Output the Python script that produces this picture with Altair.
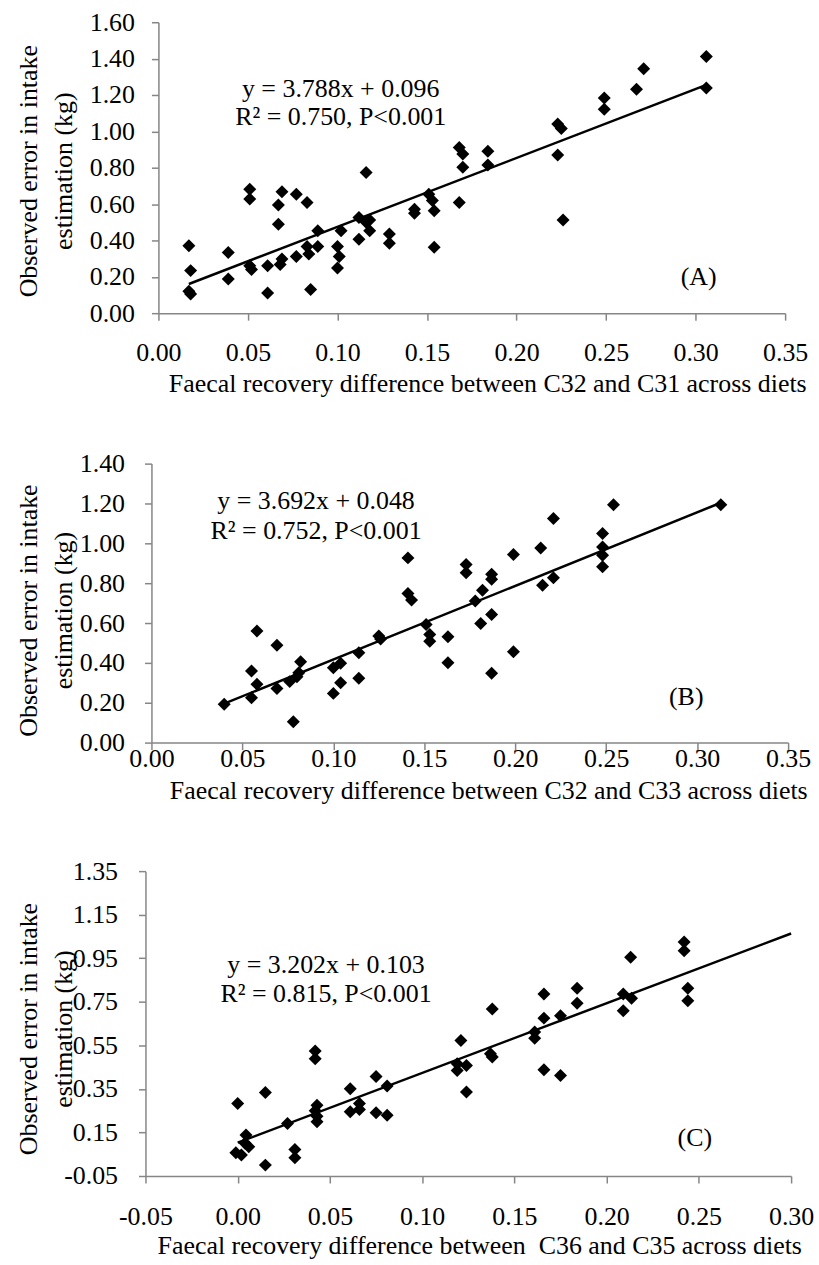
import altair as alt
import pandas as pd

FONT = "Liberation Serif"
AXIS_GREY = "#868686"

# ---- Panel A: C32 vs C31 ----
a_x = [0.017, 0.018, 0.017, 0.018, 0.039, 0.039, 0.051, 0.051, 0.051, 0.052,
       0.061, 0.061, 0.067, 0.067, 0.069, 0.068, 0.069, 0.077, 0.077, 0.083,
       0.083, 0.084, 0.085, 0.089, 0.089, 0.100, 0.101, 0.100, 0.102, 0.112,
       0.112, 0.116, 0.118, 0.118, 0.116, 0.129, 0.129, 0.143, 0.143, 0.151,
       0.153, 0.154, 0.154, 0.168, 0.170, 0.170, 0.168, 0.184, 0.184, 0.223,
       0.225, 0.223, 0.226, 0.249, 0.249, 0.267, 0.271, 0.306, 0.306]
a_y = [0.371, 0.234, 0.120, 0.105, 0.334, 0.188, 0.681, 0.628, 0.261, 0.240,
       0.261, 0.111, 0.595, 0.489, 0.668, 0.267, 0.298, 0.654, 0.312, 0.608,
       0.367, 0.325, 0.130, 0.453, 0.367, 0.367, 0.312, 0.248, 0.453, 0.526,
       0.407, 0.500, 0.513, 0.453, 0.773, 0.435, 0.385, 0.572, 0.550, 0.654,
       0.620, 0.563, 0.362, 0.911, 0.875, 0.802, 0.608, 0.891, 0.815, 1.040,
       1.015, 0.870, 0.513, 1.184, 1.122, 1.231, 1.344, 1.412, 1.238]
a_fit = (3.788, 0.096)
a_span = [0.017, 0.306]
a_eq = "y = 3.788x + 0.096\nR² = 0.750, P<0.001"

# ---- Panel B: C32 vs C33 ----
b_x = [0.040, 0.055, 0.055, 0.058, 0.058, 0.069, 0.069, 0.076, 0.078, 0.080,
       0.082, 0.081, 0.100, 0.104, 0.100, 0.104, 0.114, 0.114, 0.125, 0.126,
       0.141, 0.141, 0.143, 0.151, 0.153, 0.153, 0.163, 0.163, 0.173, 0.173,
       0.178, 0.181, 0.182, 0.187, 0.187, 0.187, 0.199, 0.199, 0.187, 0.214,
       0.215, 0.221, 0.221, 0.248, 0.248, 0.248, 0.248, 0.254, 0.313]
b_y = [0.192, 0.359, 0.225, 0.560, 0.293, 0.489, 0.272, 0.306, 0.105, 0.330,
       0.406, 0.350, 0.376, 0.398, 0.247, 0.300, 0.451, 0.323, 0.535, 0.520,
       0.927, 0.748, 0.715, 0.593, 0.543, 0.509, 0.531, 0.401, 0.894, 0.852,
       0.710, 0.598, 0.765, 0.845, 0.820, 0.643, 0.944, 0.456, 0.348, 0.977,
       0.790, 1.124, 0.827, 1.049, 0.982, 0.940, 0.882, 1.194, 1.194]
b_fit = (3.692, 0.048)
b_span = [0.040, 0.313]
b_eq = "y = 3.692x + 0.048\nR² = 0.752, P<0.001"

# ---- Panel C: C36 vs C35 ----
c_x = [0.000, 0.015, -0.001, 0.002, 0.0045, 0.006, 0.004, 0.015, 0.027, 0.031,
       0.031, 0.042, 0.042, 0.043, 0.042, 0.043, 0.043, 0.061, 0.061, 0.066,
       0.066, 0.075, 0.075, 0.081, 0.081, 0.121, 0.119, 0.119, 0.124, 0.124,
       0.138, 0.137, 0.138, 0.166, 0.166, 0.161, 0.161, 0.166, 0.175, 0.175,
       0.184, 0.184, 0.213, 0.209, 0.2135, 0.209, 0.242, 0.242, 0.244, 0.244]
c_y = [0.283, 0.333, 0.057, 0.046, 0.138, 0.084, 0.100, 0.000, 0.191, 0.072,
       0.034, 0.524, 0.488, 0.275, 0.250, 0.224, 0.199, 0.351, 0.245, 0.283,
       0.255, 0.407, 0.240, 0.363, 0.229, 0.572, 0.466, 0.435, 0.458, 0.336,
       0.717, 0.511, 0.496, 0.786, 0.675, 0.611, 0.583, 0.438, 0.686, 0.412,
       0.812, 0.743, 0.954, 0.786, 0.766, 0.709, 1.025, 0.984, 0.812, 0.755]
c_fit = (3.202, 0.103)
c_span = [0.0, 0.30]
c_eq = "y = 3.202x + 0.103\nR² = 0.815, P<0.001"

Y_TITLE = ["Observed error in intake", "estimation (kg)"]
LABEL_EXPR = ("datum.value < 0 ? '-' + format(-datum.value, '.2f') "
              ": format(datum.value, '.2f')")


def panel(xs, ys, fit, span, eq, eq_at, tag, tag_at, x_title, x_dom, x_ticks,
          y_dom, y_ticks, w, h, dx, x_lab_pad, y_lab_pad, x_title_at,
          y_title_at, eq_line):
    pts = pd.DataFrame({"x": xs, "y": ys})
    slope, icpt = fit
    fit_df = pd.DataFrame({"x": span, "y": [slope * v + icpt for v in span]})
    notes = pd.DataFrame({"x": [eq_at[0], tag_at[0]],
                          "y": [eq_at[1], tag_at[1]],
                          "t": [eq, tag]})

    x_enc = alt.X(
        "x:Q",
        scale=alt.Scale(domain=x_dom, range=[dx, dx + w], nice=False, zero=False),
        axis=alt.Axis(values=x_ticks, labelExpr=LABEL_EXPR, title=x_title,
                      labelPadding=x_lab_pad, labelBaseline="alphabetic",
                      labelFlush=False, labelOverlap=False,
                      titleX=x_title_at[0], titleY=x_title_at[1],
                      titleAlign="center", titleBaseline="alphabetic"),
    )
    y_enc = alt.Y(
        "y:Q",
        scale=alt.Scale(domain=y_dom, nice=False, zero=False),
        axis=alt.Axis(values=y_ticks, labelExpr=LABEL_EXPR, title=Y_TITLE,
                      offset=-dx, labelPadding=y_lab_pad, labelOverlap=False,
                      titleAngle=270, titleAlign="center",
                      titleBaseline="alphabetic", titleLineHeight=35,
                      titleX=y_title_at[0], titleY=y_title_at[1]),
    )

    dots = alt.Chart(pts).mark_point(
        shape="diamond", filled=True, color="black", opacity=1, size=170
    ).encode(x=x_enc, y=y_enc)
    trend = alt.Chart(fit_df).mark_line(color="black", strokeWidth=2.5).encode(
        x=x_enc, y=y_enc)
    text = alt.Chart(notes).mark_text(
        font=FONT, fontSize=26, align="center", baseline="alphabetic",
        lineBreak="\n", lineHeight=eq_line, color="black"
    ).encode(x=x_enc, y=y_enc, text="t:N")
    return alt.layer(dots, trend, text).properties(width=dx + w, height=h)


def gap(h):
    return alt.Chart(pd.DataFrame({"v": [0]})).mark_point(
        opacity=0, size=1).encode(x=alt.value(0), y=alt.value(0)
    ).properties(width=1, height=h)


ticks_x = [0.0, 0.05, 0.10, 0.15, 0.20, 0.25, 0.30, 0.35]

chart_a = panel(
    a_x, a_y, a_fit, a_span, a_eq, (0.1018, 1.189), "(A)", (0.3017, 0.153),
    "Faecal recovery difference between C32 and C31 across diets",
    [0.0, 0.35], ticks_x, [0.0, 1.6],
    [0.0, 0.2, 0.4, 0.6, 0.8, 1.0, 1.2, 1.4, 1.6],
    629, 292, 13, 41, 17, (343, 79), (-122, 149), 28)

chart_b = panel(
    b_x, b_y, b_fit, b_span, b_eq, (0.0905, 1.17), "(B)", (0.294, 0.19),
    "Faecal recovery difference between C32 and C33 across diets",
    [0.0, 0.35], ticks_x, [0.0, 1.4],
    [0.0, 0.2, 0.4, 0.6, 0.8, 1.0, 1.2, 1.4],
    639, 280, 6, 17, 20, (344, 56), (-115, 147), 30)

chart_c = panel(
    c_x, c_y, c_fit, c_span, c_eq, (0.0479, 0.883), "(C)", (0.2478, 0.086),
    "Faecal recovery difference between\u00a0 C36 and C35 across diets",
    [-0.05, 0.30], [-0.05, 0.0, 0.05, 0.10, 0.15, 0.20, 0.25, 0.30],
    [-0.05, 1.35], [-0.05, 0.15, 0.35, 0.55, 0.75, 0.95, 1.15, 1.35],
    648, 306, 0, 42, 21, (335, 78), (-109, 158), 29)

chart = alt.vconcat(
    chart_a, gap(151), chart_b, gap(129), chart_c,
    spacing=0, bounds="flush",
    padding={"left": 16, "top": 7, "right": 5, "bottom": 5},
    background="white",
).configure_view(stroke=None).configure_axis(
    grid=False,
    domainColor=AXIS_GREY, domainWidth=1.5,
    tickColor=AXIS_GREY, tickWidth=1.5, tickSize=7,
    labelFont=FONT, labelFontSize=26, labelColor="black",
    titleFont=FONT, titleFontSize=26, titleFontWeight="normal",
    titleColor="black",
)

chart.save("out.html", embed_options={"renderer": "svg", "actions": False})
